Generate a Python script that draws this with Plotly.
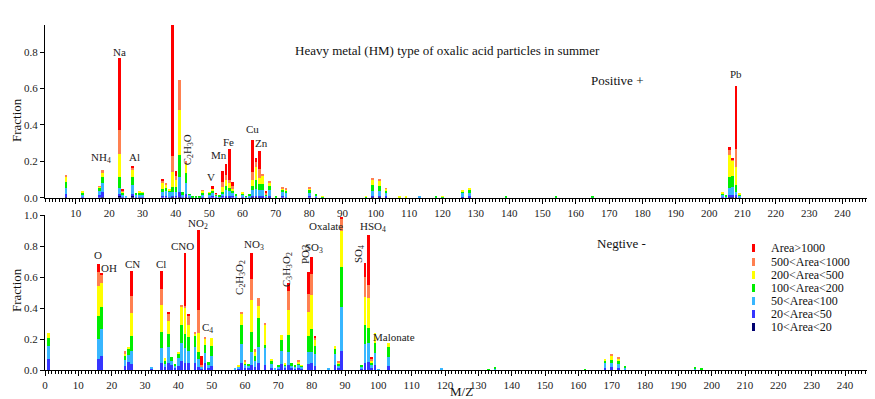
import plotly.graph_objects as go

# ---------------- data ----------------
series_names = ["10<Area<20", "20<Area<50", "50<Area<100", "100<Area<200",
                "200<Area<500", "500<Area<1000", "Area>1000"]
series_colors = ["#000070", "#3535FF", "#38B6FF", "#00EE00",
                 "#FFFF00", "#FF8050", "#FF0000"]

# Positive ion panel (M/Z)
pos_mz = [7, 12, 17, 18, 23, 24, 25, 27, 28, 29,
          30, 36, 37, 38, 39, 40, 41, 42, 43, 44,
          45, 46, 47, 48, 50, 51, 52, 53, 54, 55,
          56, 57, 58, 60, 61, 62, 63, 64, 65, 66,
          67, 68, 70, 72, 73, 80, 82, 84, 97, 99,
          101, 103, 107, 109, 113, 118, 120, 126, 128, 139,
          154, 165, 204, 205, 206, 207, 208, 209]
pos_navy = [0.003, 0, 0, 0.005, 0.008, 0, 0, 0.008, 0, 0,
            0, 0, 0, 0, 0.004, 0, 0.005, 0, 0.005, 0,
            0, 0, 0, 0, 0, 0, 0, 0, 0, 0.003,
            0.003, 0, 0, 0, 0, 0, 0.004, 0.004, 0.003, 0.003,
            0, 0.003, 0, 0, 0, 0, 0, 0, 0, 0.004,
            0.004, 0.003, 0, 0, 0, 0, 0, 0.002, 0.003, 0,
            0, 0, 0, 0, 0.005, 0.005, 0.005, 0]
pos_blue = [0.017, 0.005, 0.015, 0.025, 0.012, 0.005, 0, 0.012, 0.004, 0.005,
            0.005, 0.008, 0.008, 0.006, 0.008, 0.01, 0.025, 0.005, 0.015, 0.004,
            0, 0, 0, 0.005, 0.005, 0.008, 0.004, 0.002, 0.008, 0.007,
            0.007, 0.008, 0.003, 0.005, 0.002, 0.003, 0.006, 0.008, 0.007, 0.007,
            0.005, 0.007, 0, 0.008, 0.006, 0.008, 0.004, 0, 0, 0.005,
            0.005, 0.006, 0, 0, 0.003, 0, 0, 0.003, 0.005, 0,
            0, 0, 0.003, 0.002, 0.01, 0.01, 0.01, 0.003]
pos_lblue = [0.035, 0.012, 0.02, 0.05, 0.035, 0.012, 0.004, 0.05, 0.012, 0.015,
             0.014, 0.022, 0.027, 0.024, 0.021, 0.023, 0.085, 0.015, 0.059, 0.012,
             0.003, 0.003, 0.003, 0.015, 0.013, 0.017, 0.008, 0.005, 0.012, 0.03,
             0.025, 0.02, 0.008, 0.012, 0.004, 0.007, 0.032, 0.038, 0.03, 0.03,
             0.008, 0.03, 0.002, 0.022, 0.02, 0.018, 0.008, 0.003, 0.003, 0.028,
             0.028, 0.015, 0, 0, 0.007, 0.002, 0.003, 0.019, 0.02, 0.002,
             0.002, 0.001, 0.012, 0.005, 0.04, 0.045, 0.018, 0.008]
pos_green = [0.033, 0.013, 0.02, 0.035, 0.06, 0.01, 0, 0.045, 0.008, 0.01,
             0.009, 0.02, 0.02, 0.012, 0.027, 0.027, 0.12, 0.01, 0.055, 0.004,
             0.002, 0.003, 0.002, 0.01, 0.008, 0.015, 0.004, 0.003, 0.013, 0.025,
             0.02, 0.012, 0.004, 0.008, 0.002, 0.005, 0.022, 0.047, 0.035, 0.035,
             0.005, 0.025, 0.003, 0.015, 0.012, 0.014, 0.004, 0.002, 0.003, 0.033,
             0.027, 0.014, 0.002, 0.002, 0, 0.003, 0.003, 0.011, 0.018, 0.003,
             0.004, 0.003, 0.01, 0.005, 0.061, 0.06, 0.037, 0.008]
pos_yellow = [0.027, 0.003, 0.006, 0.025, 0.128, 0.008, 0, 0.035, 0, 0.003,
              0.003, 0.029, 0.02, 0.008, 0.082, 0.04, 0.248, 0, 0.051, 0,
              0, 0, 0, 0.008, 0.004, 0.008, 0.003, 0, 0.027, 0.03,
              0.025, 0.01, 0, 0.005, 0, 0, 0.034, 0.073, 0.032, 0.045,
              0, 0.017, 0, 0.007, 0.008, 0.012, 0, 0.003, 0.002, 0.027,
              0.03, 0.012, 0.003, 0.003, 0, 0, 0.002, 0.007, 0.004, 0,
              0, 0, 0.005, 0, 0.119, 0.085, 0.101, 0.006]
pos_coral = [0.01, 0, 0.003, 0.01, 0.128, 0.006, 0, 0.012, 0, 0,
             0, 0.016, 0.005, 0, 0.087, 0.02, 0.164, 0, 0.015, 0,
             0, 0, 0, 0.002, 0, 0.004, 0.002, 0, 0.027, 0.032,
             0.015, 0.012, 0, 0, 0, 0, 0.045, 0.028, 0.053, 0.01,
             0.007, 0.006, 0, 0.003, 0.004, 0.005, 0, 0, 0, 0.011,
             0.006, 0.003, 0, 0, 0, 0, 0, 0, 0, 0,
             0, 0, 0, 0, 0.027, 0.005, 0.095, 0]
pos_red = [0, 0, 0, 0, 0.396, 0.004, 0, 0.014, 0, 0,
           0, 0.005, 0, 0, 0.721, 0.029, 0, 0, 0, 0,
           0, 0, 0, 0, 0, 0.01, 0.004, 0, 0.06, 0.058,
           0.171, 0.023, 0, 0, 0, 0, 0.177, 0.02, 0.095, 0,
           0.012, 0, 0, 0, 0, 0, 0, 0, 0, 0,
           0, 0, 0, 0, 0, 0, 0, 0, 0, 0,
           0, 0, 0, 0, 0.015, 0.007, 0.349, 0]

# Negative ion panel (M/Z)
neg_mz = [1, 16, 17, 24, 25, 26, 32, 35, 36, 37,
          38, 39, 40, 41, 42, 43, 45, 46, 47, 48,
          49, 50, 57, 58, 59, 60, 61, 62, 63, 64,
          66, 68, 69, 70, 71, 72, 73, 74, 75, 76,
          77, 79, 80, 81, 85, 87, 88, 89, 95, 96,
          97, 98, 99, 100, 103, 119, 133, 135, 162, 168,
          170, 172, 174, 195, 197]
neg_blue = [0.071, 0.071, 0.092, 0.028, 0.05, 0.037, 0.008, 0.047, 0.02, 0.043,
            0.03, 0.015, 0.026, 0.058, 0.043, 0.043, 0.047, 0.022, 0.01, 0.047,
            0.015, 0.026, 0.003, 0.008, 0.043, 0.015, 0.012, 0.032, 0.02, 0.043,
            0.035, 0.015, 0.004, 0.008, 0.039, 0.012, 0.032, 0.01, 0.01, 0.012,
            0.01, 0.039, 0.043, 0.025, 0.003, 0.032, 0.012, 0.125, 0.01, 0.047,
            0.054, 0.01, 0.032, 0.002, 0.025, 0.004, 0, 0.003, 0, 0.013,
            0.017, 0.013, 0.006, 0.004, 0]
neg_lblue = [0.084, 0.127, 0.17, 0.037, 0.05, 0.083, 0.012, 0.093, 0.018, 0.103,
             0.03, 0.015, 0.049, 0.114, 0.097, 0.082, 0.103, 0.047, 0.01, 0.061,
             0.02, 0.066, 0.005, 0.012, 0.125, 0.02, 0.015, 0.086, 0.04, 0.107,
             0.105, 0.025, 0.006, 0.012, 0.086, 0.015, 0.086, 0.015, 0.012, 0.02,
             0.01, 0.079, 0.075, 0.078, 0.005, 0.071, 0.018, 0.284, 0.012, 0.121,
             0.122, 0.02, 0.076, 0.003, 0.061, 0.009, 0.002, 0.007, 0.004, 0.03,
             0.026, 0.027, 0.012, 0.007, 0.004]
neg_green = [0.049, 0.15, 0.142, 0.025, 0.033, 0.099, 0, 0.107, 0.022, 0.084,
             0.026, 0.01, 0.028, 0.118, 0.095, 0.09, 0.07, 0.049, 0, 0.053,
             0.019, 0.063, 0, 0.005, 0.122, 0.01, 0.012, 0.129, 0.03, 0.183,
             0.02, 0.02, 0, 0.008, 0.069, 0.008, 0.108, 0.018, 0.008, 0.013,
             0.006, 0.101, 0.144, 0.052, 0, 0.03, 0.01, 0.258, 0.008, 0.122,
             0.093, 0.02, 0.068, 0, 0.06, 0, 0.004, 0.003, 0.002, 0.013,
             0.022, 0.016, 0.01, 0.006, 0.007]
neg_yellow = [0.033, 0.194, 0.159, 0.018, 0.017, 0.147, 0, 0.173, 0.015, 0.086,
              0, 0, 0.015, 0.119, 0.165, 0.075, 0.016, 0.123, 0, 0.039,
              0, 0.054, 0, 0.003, 0.076, 0.01, 0, 0.205, 0.028, 0.08,
              0.136, 0.009, 0, 0, 0.032, 0.005, 0.161, 0, 0, 0.008,
              0.004, 0.157, 0.222, 0.043, 0, 0.022, 0.01, 0.232, 0, 0.179,
              0.193, 0.01, 0.061, 0, 0.026, 0, 0, 0, 0, 0.013,
              0.03, 0.021, 0, 0, 0]
neg_coral = [0, 0.092, 0.054, 0.012, 0, 0.111, 0, 0.1, 0, 0.043,
             0, 0, 0, 0.01, 0.01, 0.058, 0.011, 0.146, 0.012, 0.009,
             0, 0, 0, 0, 0.008, 0.005, 0, 0.135, 0.015, 0.049,
             0.005, 0, 0, 0, 0, 0, 0.123, 0, 0, 0.007,
             0, 0.114, 0.133, 0.011, 0, 0, 0.008, 0.079, 0, 0.133,
             0.086, 0.01, 0, 0, 0, 0, 0, 0, 0, 0,
             0.008, 0.009, 0, 0, 0]
neg_red = [0, 0.05, 0.007, 0, 0, 0.162, 0, 0.119, 0, 0.017,
           0, 0, 0, 0, 0.347, 0.013, 0, 0.516, 0.058, 0,
           0, 0, 0, 0, 0, 0, 0, 0.17, 0, 0,
           0, 0, 0, 0, 0, 0, 0.053, 0, 0, 0,
           0, 0.144, 0.11, 0.01, 0, 0, 0, 0.012, 0, 0.086,
           0.323, 0.016, 0, 0, 0, 0, 0, 0, 0, 0,
           0, 0, 0, 0, 0]

# Peak labels: (text, m/z, fraction, angle)
pos_labels = [("Na", 23, 0.80, 0), ("K", 39.2, 0.99, 0), ("NH<sub>4</sub>", 17.5, 0.218, 0),
              ("Al", 27.5, 0.223, 0), ("C<sub>2</sub>H<sub>3</sub>O", 43.7, 0.262, -90),
              ("V", 50.6, 0.114, 0), ("Mn", 53, 0.235, 0), ("Fe", 55.7, 0.306, 0),
              ("Cu", 62.9, 0.378, 0), ("Zn", 65.6, 0.30, 0), ("Pb", 208, 0.68, 0)]
neg_labels = [("O", 15.9, 0.742, 0), ("OH", 19.2, 0.658, 0), ("CN", 26.1, 0.684, 0),
              ("Cl", 34.8, 0.684, 0), ("CNO", 41.1, 0.80, 0), ("NO<sub>2</sub>", 45.9, 0.942, 0),
              ("C<sub>4</sub>", 48.6, 0.271, 0),
              ("C<sub>2</sub>H<sub>3</sub>O<sub>2</sub>", 58.5, 0.594, -90),
              ("NO<sub>3</sub>", 62.7, 0.806, 0),
              ("C<sub>3</sub>H<sub>3</sub>O<sub>2</sub>", 72.6, 0.645, -90),
              ("PO3", 78.0, 0.748, -90), ("SO<sub>3</sub>", 80.7, 0.787, 0),
              ("Oxalate", 84.3, 0.929, 0), ("SO<sub>4</sub>", 94.2, 0.748, -90),
              ("HSO<sub>4</sub>", 98.4, 0.923, 0), ("Malonate", 104.7, 0.213, 0)]

# ---------------- figure ----------------
# The page body has an 8px margin, so the figure is sized to fit the window
# and all pixel positions below are given in window (screenshot) coordinates.
OFF = 8
W, H = 875 - OFF, 399 - OFF
ML, MR, MT, MB = 45 - OFF, 0, 25 - OFF, 29
PW, PH = W - ML - MR, H - MT - MB
FONT = "Liberation Serif, Times New Roman, serif"


def px_x(px):
    return (px - OFF - ML) / PW


def px_y(py):
    return (H - MB - (py - OFF)) / PH


fig = go.Figure()
pos_series = [pos_navy, pos_blue, pos_lblue, pos_green, pos_yellow, pos_coral, pos_red]
for name, col, vals in zip(series_names, series_colors, pos_series):
    fig.add_trace(go.Bar(x=pos_mz, y=vals, name=name, marker_color=col,
                         marker_line_width=0, width=0.8, xaxis="x", yaxis="y",
                         showlegend=False))
neg_series = [neg_blue, neg_lblue, neg_green, neg_yellow, neg_coral, neg_red]
for name, col, vals in zip(series_names[1:], series_colors[1:], neg_series):
    fig.add_trace(go.Bar(x=neg_mz, y=vals, name=name, marker_color=col,
                         marker_line_width=0, width=0.8, xaxis="x2", yaxis="y2",
                         showlegend=False))

top_bottom = px_y(197.7)
bot_top = px_y(215)

xcommon = dict(showline=True, linecolor="#000", linewidth=1, ticks="outside",
               ticklen=5, tickwidth=1, tickcolor="#000", dtick=10, tick0=0,
               showgrid=False, zeroline=False, automargin=False,
               tickfont=dict(family=FONT, size=11, color="#222"),
               minor=dict(dtick=1, tick0=0, ticks="outside", ticklen=3,
                          tickwidth=1, tickcolor="#000", showgrid=False))
ycommon = dict(showline=True, linecolor="#000", linewidth=1, ticks="outside",
               ticklen=4, tickwidth=1, tickcolor="#000", dtick=0.2, tick0=0,
               tickformat=".1f", showgrid=False, zeroline=False, automargin=False,
               tickfont=dict(family=FONT, size=11, color="#222"))

fig.update_layout(
    template="none",
    width=W, height=H, margin=dict(l=ML, r=MR, t=MT, b=MB, autoexpand=False),
    paper_bgcolor="white", plot_bgcolor="white", barmode="stack", bargap=0,
    showlegend=False,
    font=dict(family=FONT, size=11, color="#222"),
    xaxis=dict(domain=[0, 1], anchor="y", range=[0.75, 249.75], **xcommon),
    yaxis=dict(domain=[top_bottom, 1], anchor="x", range=[0, 0.95], **ycommon),
    xaxis2=dict(domain=[0, 1], anchor="y2", range=[0, 249], **xcommon),
    yaxis2=dict(domain=[0, bot_top], anchor="x2", range=[0, 1.0], **ycommon),
)

ann = []
for txt, mx, fy, ang in pos_labels:
    ann.append(dict(text=txt, x=mx, y=fy, xref="x", yref="y", showarrow=False,
                    xanchor="center", yanchor="middle",
                    textangle=ang, font=dict(family=FONT, size=11, color="#222")))
for txt, mx, fy, ang in neg_labels:
    ann.append(dict(text=txt, x=mx, y=fy, xref="x2", yref="y2", showarrow=False,
                    xanchor="center", yanchor="middle",
                    textangle=ang, font=dict(family=FONT, size=11, color="#222")))


def paper_text(text, px, py, size=13, angle=0, xanchor="center"):
    return dict(text=text, x=px_x(px), y=px_y(py), xref="paper", yref="paper",
                xanchor=xanchor, yanchor="middle", showarrow=False, textangle=angle,
                font=dict(family=FONT, size=size, color="#111"))


ann.append(paper_text("Heavy metal (HM) type of oxalic acid particles in summer", 447, 50))
ann.append(paper_text("Positive +", 617, 80))
ann.append(paper_text("Negtive -", 621, 243))
ann.append(paper_text("Fraction", 16, 120, angle=-90))
ann.append(paper_text("Fraction", 16, 290, angle=-90))
ann.append(paper_text("M/Z", 461, 391))

# manual legend (narrow vertical swatches as in the original)
shapes = []
leg_rows_y = [248, 262, 275, 288, 301, 314, 327]
leg_order = list(reversed(range(len(series_names))))
for row_y, idx in zip(leg_rows_y, leg_order):
    shapes.append(dict(type="rect", xref="paper", yref="paper",
                       x0=px_x(752), x1=px_x(755), y0=px_y(row_y + 4), y1=px_y(row_y - 4),
                       fillcolor=series_colors[idx], line=dict(width=0)))
    ann.append(paper_text(series_names[idx], 769, row_y, size=12, xanchor="left"))

fig.update_layout(annotations=ann, shapes=shapes)
fig.write_html("out.html")
